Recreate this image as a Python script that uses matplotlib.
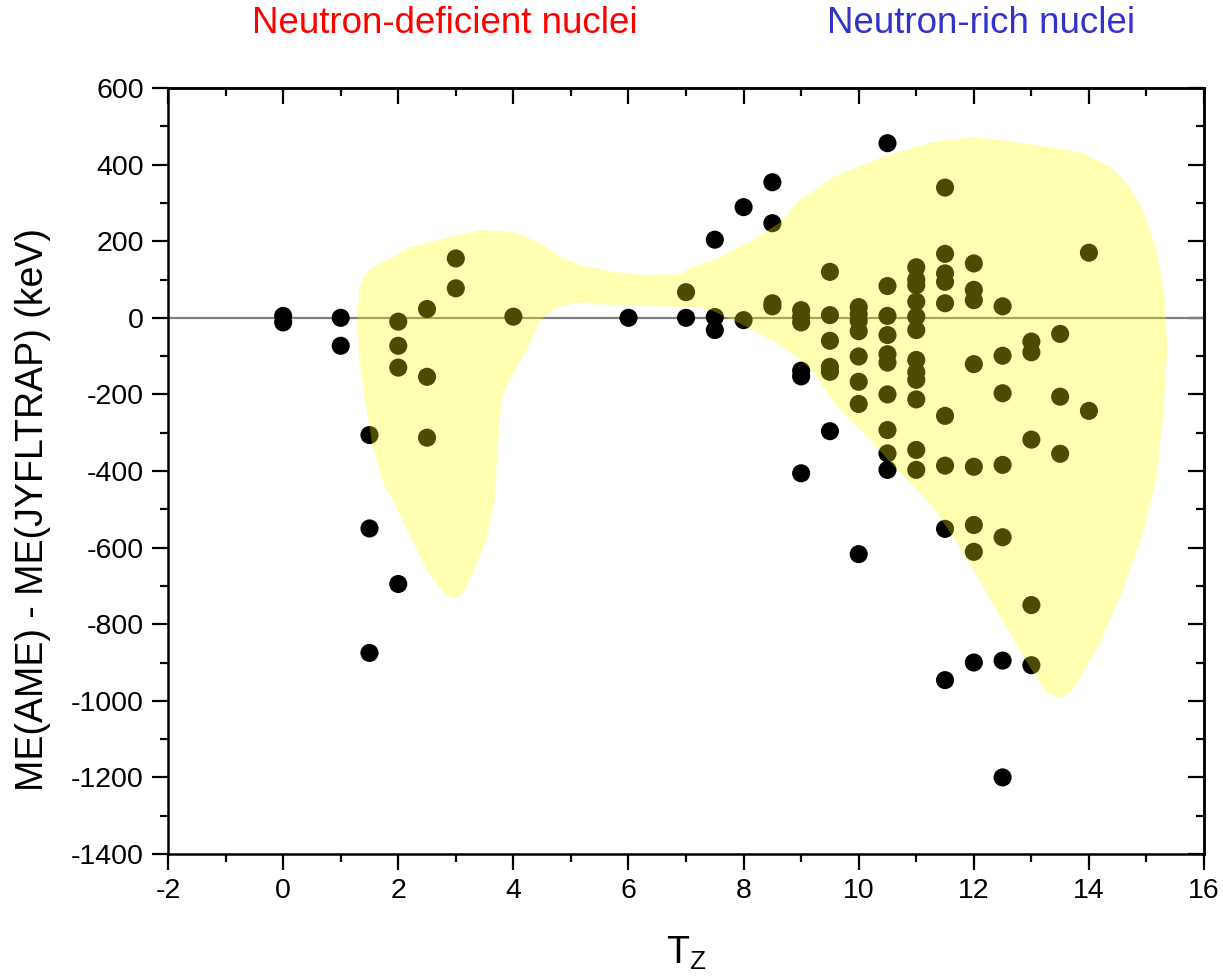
import matplotlib
matplotlib.use("Agg")
import matplotlib.pyplot as plt
from matplotlib.ticker import MultipleLocator

plt.rcParams['font.family'] = ['Liberation Sans', 'DejaVu Sans']
plt.rcParams['axes.unicode_minus'] = False

# ---- data: ME(AME) - ME(JYFLTRAP) in keV, grouped by T_Z ----
tz_groups = [0, 1, 1.5, 2, 2.5, 3, 4, 6, 7, 7.5, 8, 8.5, 9, 9.5, 10, 10.5,
             11, 11.5, 12, 12.5, 13, 13.5, 14]
me_groups = [
    [5, -12],
    [0, -73],
    [-306, -550, -875],
    [-10, -73, -130, -695],
    [23, -154, -313],
    [155, 77],
    [3],
    [0],
    [67, 0],
    [204, 2, -32],
    [289, -6],
    [354, 247, 38, 30],
    [20, 3, -12, -138, -153, -406],
    [120, 7, -60, -128, -141, -296],
    [28, 10, -8, -35, -101, -167, -225, -617],
    [456, 83, 5, -45, -95, -117, -200, -293, -354, -397],
    [132, 100, 85, 42, 3, -32, -110, -142, -162, -213, -345, -397],
    [340, 167, 116, 94, 38, -256, -386, -551, -946],
    [142, 73, 46, -121, -389, -541, -611, -900],
    [30, -99, -197, -384, -573, -895, -1200],
    [-62, -90, -318, -750, -907],
    [-42, -206, -355],
    [170, -243],
]

# outline of the highlighted (yellow) region, in data coordinates
region_tz = [2.97, 2.78, 2.50, 2.21, 1.91, 1.77, 1.56, 1.42, 1.32, 1.29, 1.32,
             1.42, 1.56, 1.91, 2.15, 2.90, 3.42, 4.00, 4.47, 4.81, 5.16, 5.73,
             6.32, 6.90, 7.12, 7.47, 8.06, 8.63, 8.98, 9.56, 10.42, 11.29, 11.94,
             12.46, 13.33, 13.90, 14.37, 14.66, 14.94, 15.18, 15.32, 15.36, 15.29,
             15.18, 14.94, 14.59, 14.19, 13.72, 13.50, 13.27, 12.93, 12.46, 11.99,
             11.64, 11.29, 10.72, 10.15, 9.76, 9.50, 9.19, 8.98, 8.69, 8.06, 7.47,
             7.19, 6.32, 5.39, 5.16, 4.76, 4.47, 4.29, 3.94, 3.82, 3.77, 3.72,
             3.68, 3.54, 3.30, 3.13]
region_me = [-734, -718, -658, -572, -476, -444, -340, -215, -110, -6, 73,
             112, 133, 159, 182, 211, 229, 224, 195, 159, 138, 120,
             112, 114, 133, 151, 195, 248, 308, 368, 420, 459, 472,
             464, 446, 430, 394, 352, 281, 177, 46, -84, -259,
             -416, -562, -711, -849, -972, -993, -980, -901, -781, -658,
             -572, -494, -405, -311, -254, -207, -136, -110, -76, -24, 18,
             28, 31, 36, 41, 28, -6, -66, -162, -202, -259, -345,
             -476, -572, -666, -718]

xticks = [-2, 0, 2, 4, 6, 8, 10, 12, 14, 16]
yticks = [600, 400, 200, 0, -200, -400, -600, -800, -1000, -1200, -1400]

tz_all = [t for t, g in zip(tz_groups, me_groups) for _ in g]
me_all = [v for g in me_groups for v in g]

fig = plt.figure(figsize=(12.23, 9.77), dpi=100)
ax = fig.add_axes([0.1374, 0.1259, 0.8471, 0.7840])

ax.axhline(0, color='#808080', lw=1.6, zorder=1)
ax.scatter(tz_all, me_all, s=170, color='black', edgecolors='none', zorder=2)
ax.fill(region_tz, region_me, facecolor=(1, 1, 0), alpha=0.3, edgecolor='none', zorder=3)

ax.set_xlim(-2, 16)
ax.set_ylim(-1400, 600)
ax.set_xticks(xticks)
ax.set_yticks(yticks)
ax.xaxis.set_minor_locator(MultipleLocator(1))
ax.yaxis.set_minor_locator(MultipleLocator(100))

for sp in ax.spines.values():
    sp.set_linewidth(1.8)

ax.tick_params(which='major', direction='out', length=11.5, width=1.6,
               labelsize=20.5, pad=6, top=False, right=False)
ax.tick_params(which='minor', direction='out', length=6, width=1.6,
               top=False, right=False)

# inward ticks on top and right
secx = ax.secondary_xaxis('top')
secx.set_xticks(xticks)
secx.xaxis.set_minor_locator(MultipleLocator(1))
secx.tick_params(which='major', direction='in', length=11.5, width=1.6, labeltop=False)
secx.tick_params(which='minor', direction='in', length=6, width=1.6)
secx.spines['top'].set_linewidth(1.8)
secy = ax.secondary_yaxis('right')
secy.set_yticks(yticks)
secy.yaxis.set_minor_locator(MultipleLocator(100))
secy.tick_params(which='major', direction='in', length=11.5, width=1.6, labelright=False)
secy.tick_params(which='minor', direction='in', length=6, width=1.6)
secy.spines['right'].set_linewidth(1.8)

ax.set_xlabel(r'T$_\mathregular{Z}$', fontsize=27)
ax.xaxis.set_label_coords(0.5, -0.105)
ax.set_ylabel('ME(AME) - ME(JYFLTRAP) (keV)', fontsize=27)
ax.yaxis.set_label_coords(-0.113, 0.45)

fig.text(0.364, 0.976, 'Neutron-deficient nuclei', color='#FF0000', fontsize=26.5,
         ha='center', va='center')
fig.text(0.802, 0.976, 'Neutron-rich nuclei', color='#3333CC', fontsize=26.5,
         ha='center', va='center')

fig.savefig('out.png', dpi=100)
